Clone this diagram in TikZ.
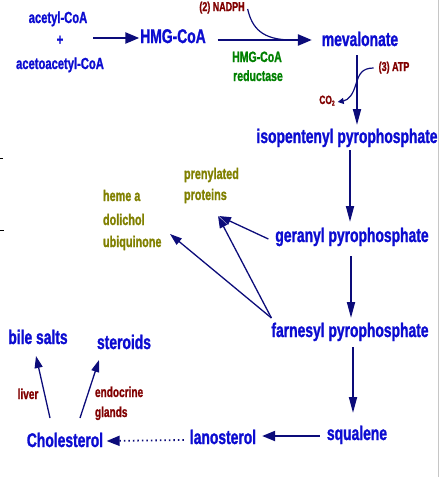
\documentclass[tikz,border=0pt]{standalone}
\usepackage{fontspec}
\newfontfamily\lab[FakeStretch=0.7,FakeBold=1.2]{Liberation Sans}
\usetikzlibrary{arrows.meta,calc}
\definecolor{txtblue}{RGB}{12,12,208}
\definecolor{navyarr}{RGB}{12,12,122}
\definecolor{cofred}{RGB}{128,0,0}
\definecolor{enzgreen}{RGB}{0,128,0}
\definecolor{prodolive}{RGB}{128,128,0}
\begin{document}
\begin{tikzpicture}[x=1pt,y=-1pt,
  every node/.style={inner sep=0pt, outer sep=0pt},
  big/.style={text=txtblue, font=\lab\bfseries\fontsize{19.8}{21}\selectfont, anchor=base},
  sm/.style={text=txtblue, font=\lab\bfseries\fontsize{16}{18}\selectfont, anchor=base},
  cofac/.style={text=cofred, font=\lab\bfseries\fontsize{12.8}{14}\selectfont, anchor=base},
  enz/.style={text=enzgreen, font=\lab\bfseries\fontsize{15}{17}\selectfont, anchor=base},
  prod/.style={text=prodolive, font=\lab\bfseries\fontsize{15.5}{17}\selectfont, anchor=base west},
  tissue/.style={text=cofred, font=\lab\bfseries\fontsize{14.4}{16}\selectfont, anchor=base west},
  harr/.style={draw=navyarr, line width=2.4pt, -{Triangle[length=14pt,width=11pt]}},
  varr/.style={draw=navyarr, line width=1.8pt, -{Triangle[length=16pt,width=8pt]}},
  sidearr/.style={draw=navyarr, line width=1.3pt, -{Triangle[length=12pt,width=8pt]}},
  curv/.style={draw=navyarr, line width=1.2pt},
  dotarr/.style={draw=navyarr, line width=1.8pt, dash pattern=on 1.5pt off 3pt, -{Triangle[length=13pt,width=10pt]}}
]
\useasboundingbox (0,0) rectangle (440,477);
\draw[gray!45, line width=1.2pt] (438.5,0) -- (438.5,477);
\draw[black, line width=1pt] (0,158) -- (3,158);
\draw[black, line width=1pt] (0,230) -- (4,230);

% nodes
\node[sm] (ac) at (58,23) {acetyl-CoA};
\node[sm] (plus) at (60,45) {+};
\node[sm] (aca) at (60,69) {acetoacetyl-CoA};
\node[big] (hmg) at (173,43) {HMG-CoA};
\node[big] (mev) at (360,46) {mevalonate};
\node[cofac] (nadph) at (222,11) {(2) NADPH};
\node[enz] (enz1) at (257,62) {HMG-CoA};
\node[enz] (enz2) at (258,81) {reductase};
\node[cofac] (atp) at (394,71) {(3) ATP};
\node[cofac, font=\lab\bfseries\fontsize{12}{13}\selectfont] (co2) at (327,104) {CO\raisebox{-1.5pt}{\fontsize{7}{7}\selectfont 2}};
\node[big] (iso) at (347,143) {isopentenyl pyrophosphate};
\node[big] (ger) at (352,242) {geranyl pyrophosphate};
\node[big] (far) at (350,337) {farnesyl pyrophosphate};
\node[big] (squ) at (357,440) {squalene};
\node[big] (lan) at (223,444) {lanosterol};
\node[big] (cho) at (65,447) {Cholesterol};
\node[big] (bile) at (38,344) {bile salts};
\node[big] (ster) at (124,349) {steroids};
\node[tissue, anchor=base] (liver) at (28,399) {liver};
\node[tissue] (endo) at (95,397) {endocrine};
\node[tissue] (glands) at (95,417) {glands};
\node[prod] (prenyl) at (184,179) {prenylated};
\node[prod] (prot) at (184,200) {proteins};
\node[prod] (heme) at (103,201) {heme a};
\node[prod] (doli) at (103,225) {dolichol};
\node[prod] (ubiq) at (103,247) {ubiquinone};

% connectors
\coordinate (s1) at ($(plus.base)+(33,-7)$);
\draw[harr] (s1) -- ($(hmg.base west)+(-1,-5)$);
\draw[harr] ($(hmg.base east)+(12,-3)$) -- ($(mev.base west)+(-10,-6)$);
\draw[curv] ($(nadph.base east)+(3,-2)$) .. controls (252,28) and (262,40) .. (292,40);
\draw[varr] ($(mev.base)+(-3,9)$) -- ($(iso.base)+(10,-18)$);
\draw[curv, -{Triangle[length=6pt,width=6pt]}] ($(atp.base west)+(-5,-3)$) .. controls (362,68) and (359,74) .. (356,84)
   .. controls (353,94) and (349,100) .. ($(co2.base east)+(3,-2)$);
\draw[varr] ($(iso.base)+(3,7)$) -- ($(ger.base)+(-2,-20)$);
\draw[varr] ($(ger.base)+(-1,14)$) -- ($(far.base)+(1,-19)$);
\draw[varr] ($(far.base)+(3,10)$) -- ($(squ.base)+(-4,-27)$);
\draw[harr, line width=2pt, -{Triangle[length=13pt,width=10pt]}] ($(squ.base west)+(-7,-4)$) -- ($(lan.base east)+(6,-8)$);
\draw[dotarr] ($(lan.base west)+(-6,-4)$) -- ($(cho.base east)+(3.5,-6)$);
\draw[sidearr] ($(cho.base)+(-15,-29)$) -- ($(bile.base)+(-2,12)$);
\draw[sidearr] ($(cho.base)+(15,-29)$) -- ($(ster.base)+(-25,11)$);
\draw[sidearr] ($(far.base west)+(0,-19)$) -- ($(ubiq.base west)+(67,-13)$);
\draw[sidearr] ($(far.base west)+(0,-19)$) -- ($(prot.base west)+(34,16)$);
\draw[sidearr] ($(ger.base west)+(-7,-3)$) -- ($(prot.base west)+(35,16)$);
\end{tikzpicture}
\end{document}
